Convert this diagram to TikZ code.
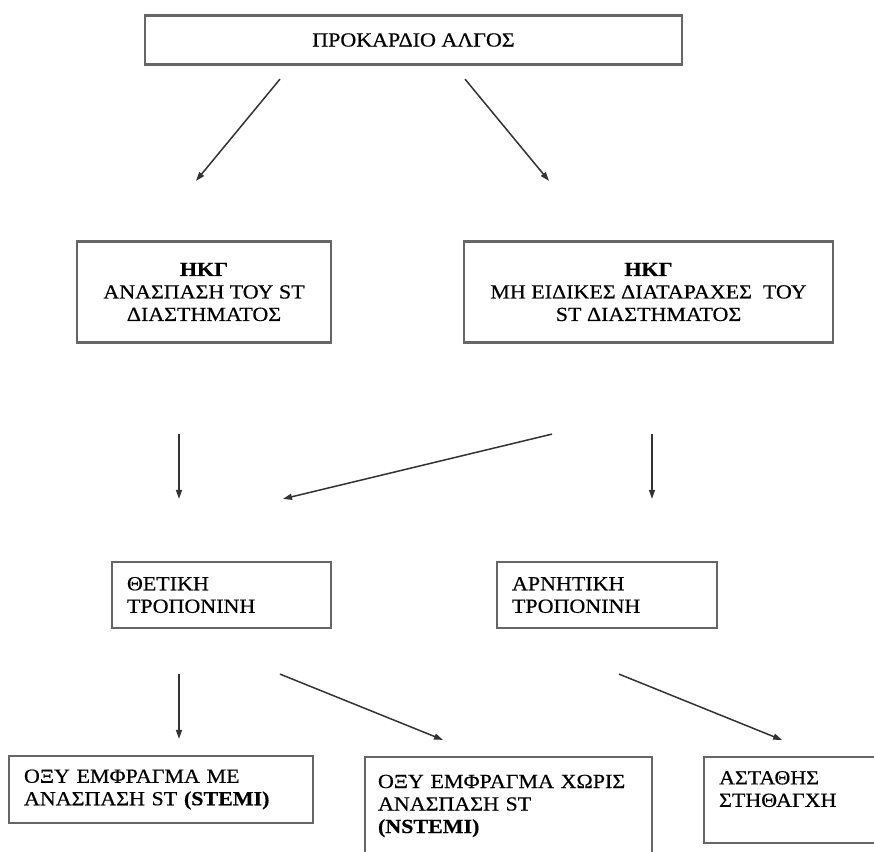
\documentclass[tikz,border=0pt]{standalone}
\usepackage{fontspec}
\setmainfont{Liberation Serif}[FakeStretch=1.1,FakeBold=0.5]
\usetikzlibrary{arrows.meta}

\tikzset{
  box/.style={draw=black!60, line width=2.2pt, inner sep=0pt, font=\fontsize{20}{22.5}\selectfont},
  lbox/.style={box, align=left, inner xsep=15pt},
  arr/.style={-{Triangle[length=9pt,width=6pt]}, line width=1.5pt, black!80},
}

\begin{document}
\begin{tikzpicture}[x=1pt,y=-1pt]
\useasboundingbox (0,0) rectangle (874,851);
\begin{scope}
\clip (0,0) rectangle (874,851);

% boxes
\node[box, minimum width=537pt, minimum height=49pt] (pain) at (413.5,40) {ΠΡΟΚΑΡΔΙΟ ΑΛΓΟΣ};
\node[box, align=center, minimum width=254pt, minimum height=101pt] (ecgst) at (204,292)
  {\textbf{ΗΚΓ}\\ΑΝΑΣΠΑΣΗ ΤΟΥ ST\\ΔΙΑΣΤΗΜΑΤΟΣ};
\node[box, align=center, minimum width=369pt, minimum height=101pt] (ecgns) at (648.5,292)
  {\textbf{ΗΚΓ}\\ΜΗ ΕΙΔΙΚΕΣ ΔΙΑΤΑΡΑΧΕΣ\ \ ΤΟΥ\\ST ΔΙΑΣΤΗΜΑΤΟΣ};
\node[lbox, text width=189pt, minimum height=66pt] (tpos) at (221.5,595) {ΘΕΤΙΚΗ\\ΤΡΟΠΟΝΙΝΗ};
\node[lbox, text width=190pt, minimum height=66pt] (tneg) at (607,595) {ΑΡΝΗΤΙΚΗ\\ΤΡΟΠΟΝΙΝΗ};
\node[lbox, text width=274pt, minimum height=67pt] (stemi) at (161,789.5)
  {ΟΞΥ ΕΜΦΡΑΓΜΑ ΜΕ\\ΑΝΑΣΠΑΣΗ ST \textbf{(STEMI)}};
\node[lbox, inner xsep=13pt, text width=261pt, minimum height=98pt] (nstemi) at (508.5,806)
  {ΟΞΥ ΕΜΦΡΑΓΜΑ ΧΩΡΙΣ\\ΑΝΑΣΠΑΣΗ ST\\\textbf{(NSTEMI)}};
\node[box, anchor=north west, inner xsep=15pt, inner ysep=14pt] (unst) at (703,756)
  {\parbox[t][58pt][t]{167pt}{ΑΣΤΑΘΗΣ\\ΣΤΗΘΑΓΧΗ}};

% arrows
\draw[arr] ([shift={(-133.5,13.5)}]pain.south) -- ([shift={(-8,-59.5)}]ecgst.north);
\draw[arr] ([shift={(51.5,13.5)}]pain.south) -- ([shift={(-99.5,-59.5)}]ecgns.north);
\draw[arr] ([shift={(-25,90.5)}]ecgst.south) -- ([shift={(-42.5,-62)}]tpos.north);
\draw[arr] ([shift={(-96.5,90.5)}]ecgns.south) -- ([shift={(61.5,-62)}]tpos.north);
\draw[arr] ([shift={(3.5,90.5)}]ecgns.south) -- ([shift={(45,-62)}]tneg.north);
\draw[arr] ([shift={(-42.5,45)}]tpos.south) -- ([shift={(18,-16)}]stemi.north);
\draw[arr] ([shift={(58.5,45)}]tpos.south) -- ([shift={(-65.5,-16)}]nstemi.north);
\draw[arr] ([shift={(12,45)}]tneg.south) -- ([shift={(-20.5,-16)}]unst.north);
\end{scope}
\end{tikzpicture}
\end{document}
